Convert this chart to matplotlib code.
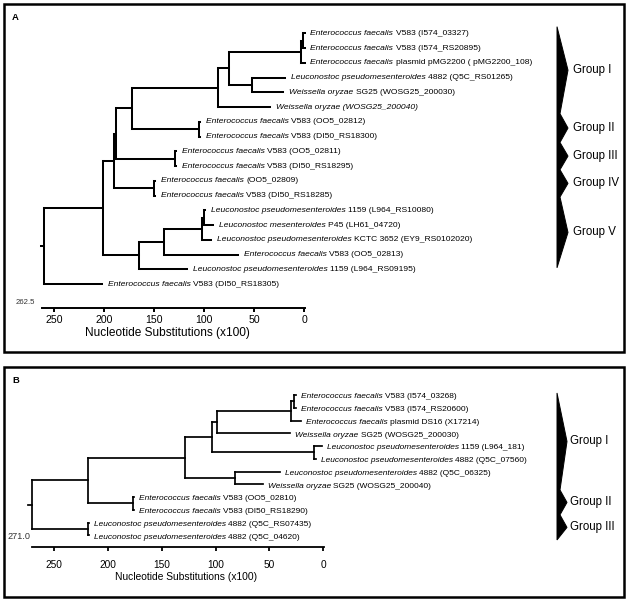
import matplotlib
matplotlib.use("Agg")
import matplotlib.pyplot as plt
from matplotlib.patches import Rectangle, Polygon
from matplotlib import transforms

plt.rcParams["font.family"] = ["Liberation Sans", "DejaVu Sans"]

W, H, DPI = 628, 601, 100

# -------------------------
# PANEL A DATA
# -------------------------
a_italic = [
    "Enterococcus faecalis", "Enterococcus faecalis", "Enterococcus faecalis",
    "Leuconostoc pseudomesenteroides", "Weissella oryzae",
    "Weissella oryzae (WOSG25_200040)",
    "Enterococcus faecalis", "Enterococcus faecalis", "Enterococcus faecalis",
    "Enterococcus faecalis", "Enterococcus faecalis", "Enterococcus faecalis",
    "Leuconostoc pseudomesenteroides", "Leuconostoc mesenteroides",
    "Leuconostoc pseudomesenteroides", "Enterococcus faecalis",
    "Leuconostoc pseudomesenteroides", "Enterococcus faecalis",
]
a_rest = [
    "V583 (I574_03327)", "V583 (I574_RS20895)", "plasmid pMG2200 ( pMG2200_108)",
    "4882 (Q5C_RS01265)", "SG25 (WOSG25_200030)", "",
    "V583 (OO5_02812)", "V583 (DI50_RS18300)", "V583 (OO5_02811)",
    "V583 (DI50_RS18295)", "(OO5_02809)", "V583 (DI50_RS18285)",
    "1159 (L964_RS10080)", "P45 (LH61_04720)", "KCTC 3652 (EY9_RS0102020)",
    "V583 (OO5_02813)", "1159 (L964_RS09195)", "V583 (DI50_RS18305)",
]
# distance of each leaf tip from 0 (x100 substitutions)
a_tips = [-0.5, -0.5, -0.5, 19, 21, 34, 104, 104, 128, 128,
          149, 149, 99, 91, 93, 66, 117, 202]
# merges: (child, child, node height); new node ids follow the leaves
a_merges = [
    (0, 1, 1), (18, 2, 3), (3, 4, 52), (19, 20, 75), (21, 5, 86),
    (6, 7, 105), (22, 23, 172), (8, 9, 129), (24, 25, 188), (10, 11, 150),
    (26, 27, 190), (12, 13, 100), (29, 14, 102), (30, 15, 140),
    (31, 16, 165), (28, 32, 201), (33, 17, 260),
]
a_total = 262.5
a_groups = ["Group I", "Group II", "Group III", "Group IV", "Group V"]
a_group_edges = [-0.45, 5.45, 7.4, 9.25, 11.1, 15.9]

# -------------------------
# PANEL B DATA
# -------------------------
b_italic = [
    "Enterococcus faecalis", "Enterococcus faecalis", "Enterococcus faecalis",
    "Weissella oryzae", "Leuconostoc pseudomesenteroides",
    "Leuconostoc pseudomesenteroides", "Leuconostoc pseudomesenteroides",
    "Weissella oryzae", "Enterococcus faecalis", "Enterococcus faecalis",
    "Leuconostoc pseudomesenteroides", "Leuconostoc pseudomesenteroides",
]
b_rest = [
    "V583 (I574_03268)", "V583 (I574_RS20600)", "plasmid DS16 (X17214)",
    "SG25 (WOSG25_200030)", "1159 (L964_181)", "4882 (Q5C_07560)",
    "4882 (Q5C_06325)", "SG25 (WOSG25_200040)", "V583 (OO5_02810)",
    "V583 (DI50_RS18290)", "4882 (Q5C_RS07435)", "4882 (Q5C_04620)",
]
b_tips = [25, 25, 20.5, 30.7, 1, 6.5, 40, 56, 176, 176, 217.7, 217.7]
b_merges = [
    (0, 1, 27), (12, 2, 29.8), (13, 3, 98.6), (4, 5, 8.4), (14, 15, 103.3),
    (6, 7, 81.9), (16, 17, 128.4), (8, 9, 176.7), (18, 19, 218.6),
    (10, 11, 218.6), (20, 21, 271),
]
b_total = 271.0
b_groups = ["Group I", "Group II", "Group III"]
b_group_edges = [-0.16, 7.45, 9.4, 11.37]

ticks = [0, 50, 100, 150, 200, 250]
xlabel = "Nucleotide Substitutions (x100)"


# -------------------------
# DRAWING HELPERS
# -------------------------

def make_panel(fig, top, bottom, x0, sx, y0, dy, left=4, right=624):
    """Axes whose bottom edge is the scale bar; data x = substitutions, y = leaf index."""
    ax = fig.add_axes([left / W, 1 - bottom / H, (right - left) / W, (bottom - top) / H])
    ax.set_xlim((x0 - left) / sx, (x0 - right) / sx)
    ax.set_ylim((bottom - y0) / dy, (top - y0) / dy)
    ax.patch.set_visible(False)
    for side in ("left", "right", "top"):
        ax.spines[side].set_visible(False)
    ax.set_yticks([])
    return ax


def draw_tree(ax, tips, merges, lw, stub):
    xs = list(tips)
    ys = list(range(len(tips)))
    for c1, c2, h in merges:
        xs.append(h)
        ys.append((ys[c1] + ys[c2]) / 2)
    kw = dict(color="black", lw=lw, solid_capstyle="projecting")
    for c1, c2, h in merges:
        ax.plot([h, h], [ys[c1], ys[c2]], **kw)
        for c in (c1, c2):
            ax.plot([h, xs[c]], [ys[c], ys[c]], **kw)
    ax.plot([xs[-1], xs[-1] + stub], [ys[-1], ys[-1]], **kw)


def draw_labels(ax, tips, italic, rest, fs, off, dy=0):
    for i, (tip, it, rs) in enumerate(zip(tips, italic, rest)):
        t1 = ax.annotate(it, xy=(tip, i), xytext=(off, dy), textcoords="offset points",
                         style="italic", fontsize=fs, va="center", ha="left")
        if rs:
            ax.annotate(rs, xy=(1, 0.5), xycoords=t1, xytext=(fs * 0.28, 0),
                        textcoords="offset points", fontsize=fs, va="center", ha="left")


def draw_groups(ax, names, edges, px_line, px_tip, px_notch, px_text, fs):
    fx = lambda px: (px - 4) / 620
    tr = transforms.blended_transform_factory(ax.transAxes, ax.transData)
    pts = [(fx(px_line), edges[0])]
    for k, name in enumerate(names):
        mid = (edges[k] + edges[k + 1]) / 2
        pts.append((fx(px_tip), mid))
        if k < len(names) - 1:
            pts.append((fx(px_notch), edges[k + 1]))
        ax.text(fx(px_text), mid, name, transform=tr, fontsize=fs, va="center", ha="left")
    pts.append((fx(px_line), edges[-1]))
    ax.add_patch(Polygon(pts, closed=True, facecolor="black", edgecolor="black",
                         lw=0.7, transform=tr, clip_on=False))


def style_scale(ax, total, lw, tick_fs, pad, label_fs, label_xy, total_fs, total_off):
    ax.spines["bottom"].set_bounds(-0.5, total)
    ax.spines["bottom"].set_linewidth(lw)
    ax.set_xticks(ticks)
    ax.set_xticklabels([str(t) for t in ticks])
    ax.tick_params(axis="x", direction="out", length=2.9, width=lw, pad=pad,
                   labelsize=tick_fs, colors="black")
    ax.set_xlabel(xlabel, fontsize=label_fs)
    ax.xaxis.set_label_coords(*label_xy)
    ax.annotate(f"{total:.1f}", xy=(total, ax.get_ylim()[0]), xytext=total_off,
                textcoords="offset points", fontsize=total_fs, ha="right", va="center",
                color="#333333", annotation_clip=False)


def frame(fig, x0, y0, x1, y1):
    fig.add_artist(Rectangle((x0 / W, 1 - y1 / H), (x1 - x0) / W, (y1 - y0) / H,
                             transform=fig.transFigure, fill=False, lw=1.8,
                             edgecolor="black"))


# -------------------------
# MAIN
# -------------------------

def main():
    fig = plt.figure(figsize=(W / DPI, H / DPI), dpi=DPI)
    fig.patch.set_facecolor("white")

    # Panel A
    ax_a = make_panel(fig, top=4, bottom=308, x0=304, sx=1.0, y0=33.3, dy=14.75)
    draw_tree(ax_a, a_tips, a_merges, lw=1.45, stub=3.5)
    draw_labels(ax_a, a_tips, a_italic, a_rest, fs=6.1, off=4.3)
    draw_groups(ax_a, a_groups, a_group_edges, 557, 568, 560, 573, 8.3)
    style_scale(ax_a, a_total, 1.4, 7.6, 2.0, 8.6, ((167 - 4) / 620, -0.064),
                5.6, (-4.5, 3.8))
    frame(fig, 4, 4, 624, 352)
    fig.text(15.5 / W, 1 - 18 / H, "A", fontsize=6.8, weight="bold",
             ha="center", va="center")

    # Panel B
    ax_b = make_panel(fig, top=367, bottom=547, x0=323, sx=1.075, y0=395, dy=12.75)
    draw_tree(ax_b, b_tips, b_merges, lw=1.25, stub=3.5)
    draw_labels(ax_b, b_tips, b_italic, b_rest, fs=6.0, off=3.6, dy=-1.3)
    draw_groups(ax_b, b_groups, b_group_edges, 557, 567, 560, 570, 8.3)
    style_scale(ax_b, b_total, 1.3, 7.3, 6.5, 7.4, ((186 - 4) / 620, -0.14),
                6.6, (-0.5, 7.5))
    frame(fig, 4, 367, 624, 597)
    fig.text(15.5 / W, 1 - 380.5 / H, "B", fontsize=6.8, weight="bold",
             ha="center", va="center")

    fig.savefig("out.png", dpi=DPI)
    plt.close(fig)


if __name__ == "__main__":
    main()
